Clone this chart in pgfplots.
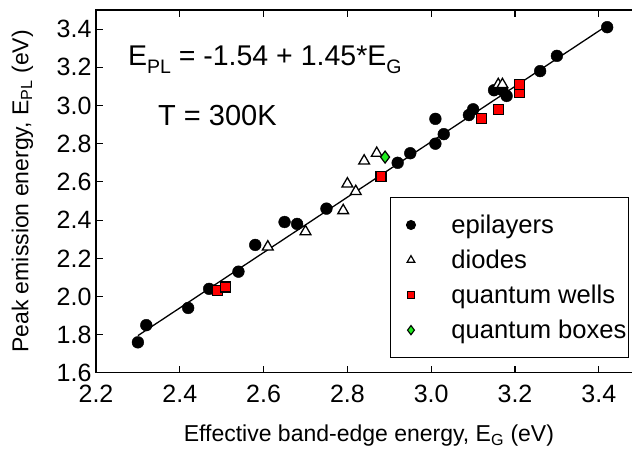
\documentclass[border=0pt]{standalone}
\usepackage{pgfplots}
\pgfplotsset{compat=1.18}
\usepackage{fontspec}
\setmainfont{Liberation Sans}
\definecolor{qbgreen}{RGB}{30,235,30}
\begin{document}
\begin{tikzpicture}
\begin{axis}[
  scale only axis,
  width=544.7pt, height=362.9pt,
  xmin=2.2, xmax=3.5, ymin=1.6, ymax=3.5,
  xtick={2.2,2.4,...,3.4}, ytick={1.6,1.8,...,3.4},
  minor tick num=0,
  tick align=inside,
  major tick length=7pt,
  axis line style={line width=1.2pt},
  every tick/.style={line width=1.1pt, black},
  /pgf/number format/assume math mode=true,
  /pgf/number format/.cd, fixed, fixed zerofill, precision=1, /pgfplots/.cd,
  xticklabel style={font=\fontsize{25}{28}\selectfont, anchor=north, yshift=-9pt},
  yticklabel style={font=\fontsize{25}{28}\selectfont, xshift=-1pt},
  xlabel={Effective band-edge energy, E\textsubscript{G} (eV)},
  ylabel={Peak emission energy, E\textsubscript{PL} (eV)},
  label style={font=\fontsize{23}{26}\selectfont},
  xlabel style={at={(axis description cs:0.501,-0.19)}, anchor=base},
  ylabel style={at={(axis description cs:-0.135,0.5)}, anchor=center},
  legend cell align=left,
  legend style={at={(axis description cs:0.5397,0.4834)}, anchor=north west,
    draw=black, line width=1pt, inner xsep=0pt, inner ysep=15pt,
    font=\fontsize{25.6}{29}\selectfont, row sep=11pt,
    nodes={inner sep=2pt}},
  legend image code/.code={\path (0pt,0pt) (58pt,0pt); \draw[#1] plot coordinates {(20pt,0pt)};},
]
% fit line
\addplot[black, line width=1.3pt, forget plot] coordinates {(2.30,1.795) (3.42,3.419)};
% epilayers
\addplot[only marks, mark=*, mark size=5.9pt, black, forget plot] coordinates {
(2.30,1.76) (2.32,1.85) (2.42,1.94) (2.47,2.04) (2.54,2.13) (2.58,2.27)
(2.65,2.39) (2.68,2.38) (2.75,2.46) (2.92,2.70) (2.95,2.75) (3.01,2.80)
(3.01,2.93) (3.03,2.85) (3.09,2.95) (3.10,2.98) (3.15,3.08) (3.17,3.08)
(3.18,3.05) (3.26,3.18) (3.30,3.26) (3.42,3.41)};
% diodes
\addplot[only marks, mark=triangle*, mark size=6.2pt, mark options={fill=white, draw=black, line width=1.3pt}, forget plot] coordinates {
(2.61,2.26) (2.70,2.34) (2.79,2.45) (2.80,2.59) (2.82,2.55) (2.84,2.71)
(2.87,2.75) (3.16,3.11) (3.17,3.11)};
% quantum wells
\addplot[only marks, mark=square*, mark size=5pt, mark options={fill=red, draw=black, line width=1.2pt}, forget plot] coordinates {
(2.49,2.03) (2.51,2.05) (2.88,2.63) (3.12,2.93) (3.16,2.98) (3.21,3.07) (3.21,3.11)};
% quantum boxes
\addplot[only marks, mark=diamond*, mark size=6pt, mark options={fill=qbgreen, draw=black, line width=1.2pt}, forget plot] coordinates {
(2.89,2.73)};
% legend entries
\addlegendimage{only marks, mark=*, mark size=4.5pt, black}
\addlegendentry{epilayers}
\addlegendimage{only marks, mark=triangle*, mark size=4.4pt, mark options={fill=white, draw=black, line width=1.2pt}}
\addlegendentry{diodes}
\addlegendimage{only marks, mark=square*, mark size=3.6pt, mark options={fill=red, draw=black, line width=1.1pt}}
\addlegendentry{quantum wells}
\addlegendimage{only marks, mark=diamond*, mark size=4.6pt, mark options={fill=qbgreen, draw=black, line width=1.1pt}}
\addlegendentry{quantum boxes}
% annotations
\node[anchor=base west, inner sep=0pt, font=\fontsize{28.5}{32}\selectfont] at (axis cs:2.276,3.207) {E\raisebox{-0.28em}{\fontsize{19.5}{22}\selectfont PL} = -1.54 + 1.45*E\raisebox{-0.28em}{\fontsize{19.5}{22}\selectfont G}};
\node[anchor=base west, inner sep=0pt, font=\fontsize{29}{32}\selectfont] at (axis cs:2.348,2.893) {T = 300K};
\end{axis}
\pgfresetboundingbox
\path[use as bounding box] ([shift={(-96pt,-79pt)}]current axis.south west) rectangle ([shift={(536pt,372.9pt)}]current axis.south west);
\end{tikzpicture}
\end{document}
